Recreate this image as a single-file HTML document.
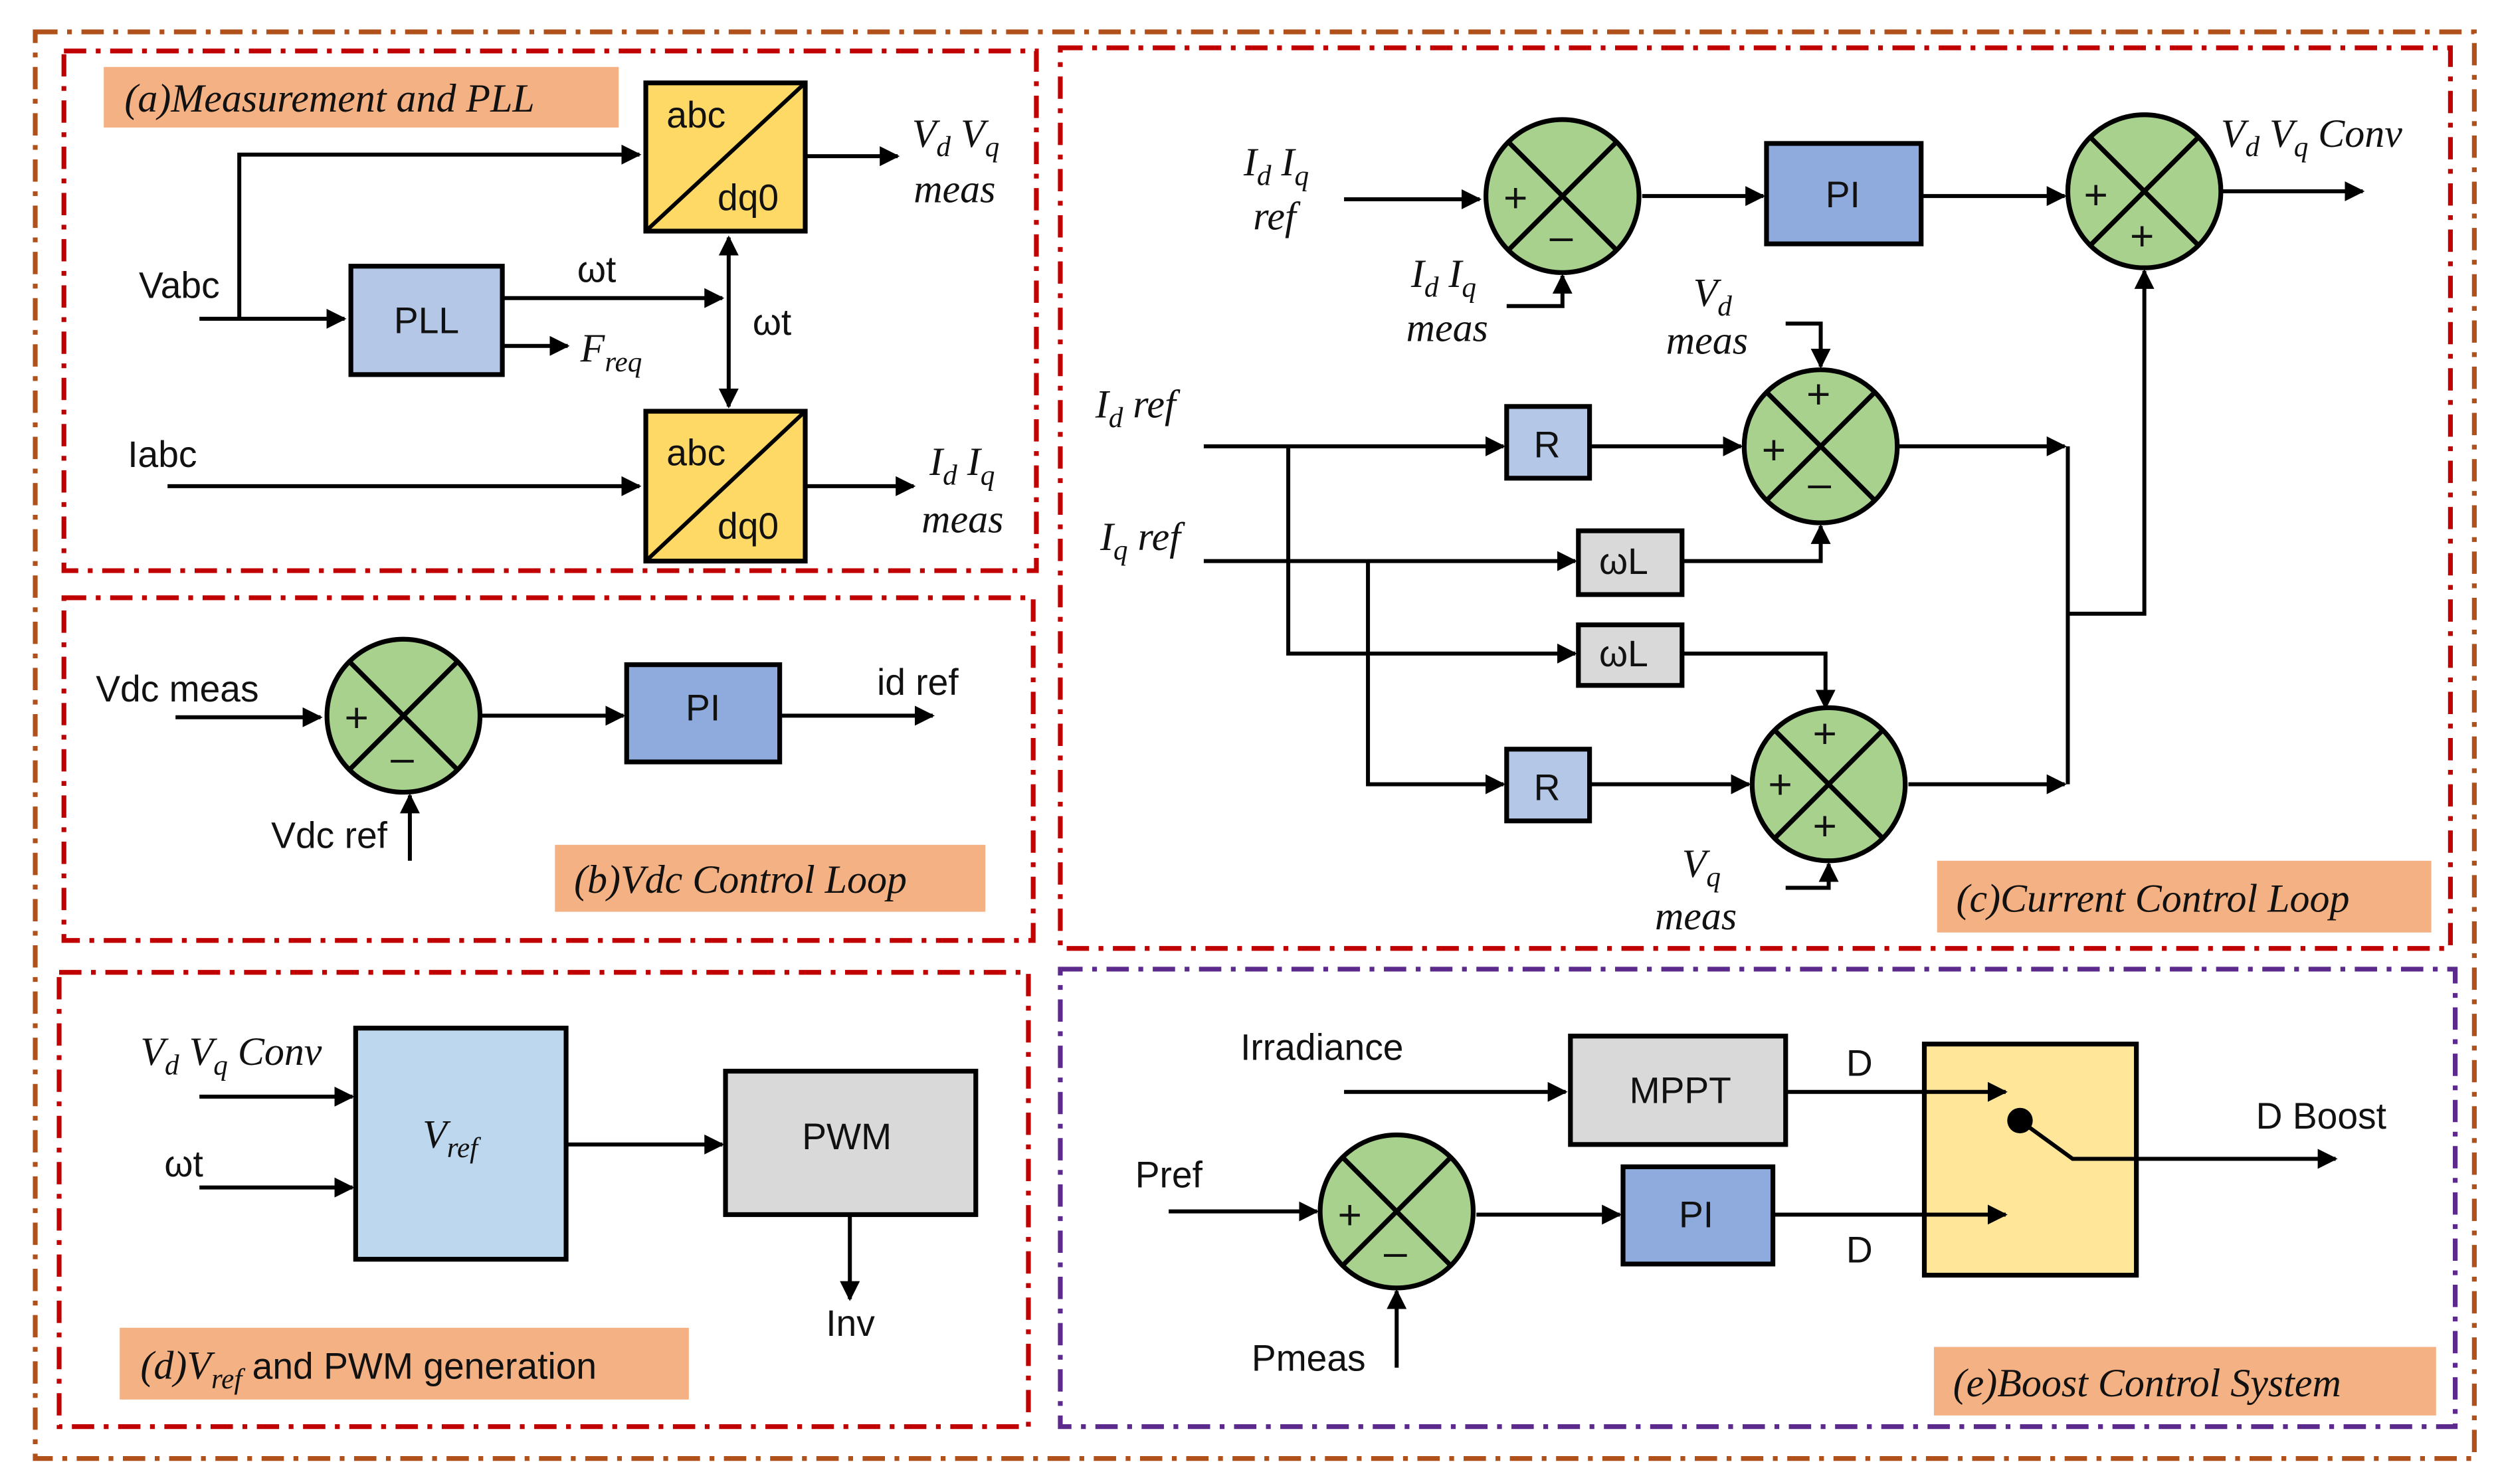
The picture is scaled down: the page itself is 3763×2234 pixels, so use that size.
<!DOCTYPE html>
<html><head><meta charset="utf-8"><style>
html,body{margin:0;padding:0;background:#fff}
svg{display:block}
text{font-family:"Liberation Sans",sans-serif;font-size:23px;fill:#111}
.s{font-size:26px}
.m{font-family:"Liberation Serif",serif;font-style:italic;font-size:25px}
.lab{font-family:"Liberation Serif",serif;font-style:italic;font-size:25px}
.ln{stroke:#000;stroke-width:2.5;fill:none}
.bx{stroke:#000;stroke-width:3}
.frame{fill:none;stroke-width:3;stroke-dasharray:14 6 3 6}
</style></head><body>
<svg width="3763" height="2234" viewBox="0 0 1568 931" xmlns="http://www.w3.org/2000/svg">
<defs>
<marker id="a" viewBox="0 0 10 10" refX="9" refY="5" markerWidth="5" markerHeight="5" orient="auto-start-reverse"><path d="M0,0L10,5L0,10z" fill="#000"/></marker>
<g id="sum"><circle r="48" fill="#a9d18e" stroke="#000" stroke-width="3"/><path d="M-34,-34L34,34M34,-34L-34,34" stroke="#000" stroke-width="3"/></g>
</defs>
<rect x="22" y="20" width="1530" height="895" class="frame" stroke="#b0501a"/>
<rect x="40" y="32" width="610" height="326" class="frame" stroke="#c00000"/>
<rect x="40" y="375" width="608" height="215" class="frame" stroke="#c00000"/>
<rect x="665" y="30" width="872" height="565" class="frame" stroke="#c00000"/>
<rect x="37" y="610" width="608" height="285" class="frame" stroke="#c00000"/>
<rect x="665" y="608" width="875" height="287" class="frame" stroke="#5b2a8c"/>
<rect x="65" y="42" width="323" height="38" fill="#f4b183"/><text x="78" y="70" class="lab">(a)Measurement and PLL</text>
<rect x="348" y="530" width="270" height="42" fill="#f4b183"/><text x="360" y="560" class="lab">(b)Vdc Control Loop</text>
<rect x="1215" y="540" width="310" height="45" fill="#f4b183"/><text x="1227" y="572" class="lab">(c)Current Control Loop</text>
<rect x="75" y="833" width="357" height="45" fill="#f4b183"/><text x="88" y="865" class="lab">(d)V<tspan font-size="18" dy="6">ref</tspan><tspan dy="-6" font-family="Liberation Sans" font-style="normal" font-size="23"> and PWM generation</tspan></text>
<rect x="1213" y="845" width="315" height="43" fill="#f4b183"/><text x="1225" y="876" class="lab">(e)Boost Control System</text>

<rect x="405" y="52" width="100" height="93" fill="#ffd966" class="bx"/><path d="M405,145L505,52" class="ln" stroke-width="3"/>
<text x="418" y="80">abc</text><text x="450" y="132">dq0</text>
<rect x="405" y="258" width="100" height="94" fill="#ffd966" class="bx"/><path d="M405,352L505,258" class="ln" stroke-width="3"/>
<text x="418" y="292">abc</text><text x="450" y="338">dq0</text>
<rect x="220" y="167" width="95" height="68" fill="#b4c7e7" class="bx"/><text x="247" y="209">PLL</text>
<text x="87" y="187">Vabc</text>
<path d="M125,200H216" class="ln" marker-end="url(#a)"/>
<path d="M150,200V97H401" class="ln" marker-end="url(#a)"/>
<path d="M315,187H453" class="ln" marker-end="url(#a)"/><text x="362" y="177">ωt</text>
<path d="M315,217H356" class="ln" marker-end="url(#a)"/><text x="364" y="227" class="m">F<tspan font-size="18" dy="6">req</tspan></text>
<path d="M457,149V255" class="ln" marker-start="url(#a)" marker-end="url(#a)"/><text x="472" y="210">ωt</text>
<text x="80" y="293">Iabc</text>
<path d="M105,305H401" class="ln" marker-end="url(#a)"/>
<path d="M505,98H563" class="ln" marker-end="url(#a)"/>
<text x="572" y="92" class="m">V<tspan font-size="18" dy="6">d</tspan><tspan dy="-6"> V</tspan><tspan font-size="18" dy="6">q</tspan></text><text x="573" y="127" class="m">meas</text>
<path d="M505,305H573" class="ln" marker-end="url(#a)"/>
<text x="583" y="298" class="m">I<tspan font-size="18" dy="6">d</tspan><tspan dy="-6"> I</tspan><tspan font-size="18" dy="6">q</tspan></text><text x="578" y="334" class="m">meas</text>

<use href="#sum" x="253" y="449"/><text class="s" x="216" y="459">+</text><text class="s" x="245" y="484">–</text>
<text x="60" y="440">Vdc meas</text>
<path d="M110,450H201" class="ln" marker-end="url(#a)"/>
<path d="M257,540V499" class="ln" marker-end="url(#a)"/><text x="170" y="532">Vdc ref</text>
<rect x="393" y="417" width="96" height="61" fill="#8faadc" class="bx"/><text x="430" y="452">PI</text>
<path d="M301,449H391" class="ln" marker-end="url(#a)"/>
<path d="M489,449H585" class="ln" marker-end="url(#a)"/><text x="550" y="436">id ref</text>

<use href="#sum" x="980" y="123"/><text class="s" x="943" y="133">+</text><text class="s" x="972" y="157">–</text>
<text x="780" y="110" class="m">I<tspan font-size="18" dy="6">d</tspan><tspan dy="-6"> I</tspan><tspan font-size="18" dy="6">q</tspan></text><text x="786" y="144" class="m">ref</text>
<path d="M843,125H928" class="ln" marker-end="url(#a)"/>
<text x="885" y="180" class="m">I<tspan font-size="18" dy="6">d</tspan><tspan dy="-6"> I</tspan><tspan font-size="18" dy="6">q</tspan></text><text x="882" y="214" class="m">meas</text>
<path d="M945,192H980V173" class="ln" marker-end="url(#a)"/>
<rect x="1108" y="90" width="97" height="63" fill="#8faadc" class="bx"/><text x="1145" y="130">PI</text>
<path d="M1030,123H1106" class="ln" marker-end="url(#a)"/>
<path d="M1205,123H1295" class="ln" marker-end="url(#a)"/>
<use href="#sum" x="1345" y="120"/><text class="s" x="1307" y="131">+</text><text class="s" x="1336" y="157">+</text>
<path d="M1393,120H1482" class="ln" marker-end="url(#a)"/>
<text x="1393" y="92" class="m">V<tspan font-size="18" dy="6">d</tspan><tspan dy="-6"> V</tspan><tspan font-size="18" dy="6">q</tspan><tspan dy="-6"> Conv</tspan></text>
<path d="M1297,385H1345V170" class="ln" marker-end="url(#a)"/>
<path d="M1297,280V492" class="ln"/>
<use href="#sum" x="1142" y="280"/><text class="s" x="1133" y="256">+</text><text class="s" x="1105" y="291">+</text><text class="s" x="1134" y="312">–</text>
<text x="1062" y="192" class="m">V<tspan font-size="18" dy="6">d</tspan></text><text x="1045" y="222" class="m">meas</text>
<path d="M1120,203H1142V230" class="ln" marker-end="url(#a)"/>
<text x="687" y="262" class="m">I<tspan font-size="18" dy="6">d</tspan><tspan dy="-6"> ref</tspan></text>
<path d="M755,280H943" class="ln" marker-end="url(#a)"/>
<rect x="945" y="255" width="52" height="45" fill="#b4c7e7" class="bx"/><text x="962" y="287">R</text>
<path d="M997,280H1092" class="ln" marker-end="url(#a)"/>
<path d="M1190,280H1295" class="ln" marker-end="url(#a)"/>
<text x="690" y="345" class="m">I<tspan font-size="18" dy="6">q</tspan><tspan dy="-6"> ref</tspan></text>
<path d="M755,352H988" class="ln" marker-end="url(#a)"/>
<rect x="990" y="333" width="65" height="40" fill="#d9d9d9" class="bx"/><text x="1003" y="360">ωL</text>
<path d="M1055,352H1142V330" class="ln" marker-end="url(#a)"/>
<path d="M808,280V410H988" class="ln" marker-end="url(#a)"/>
<rect x="990" y="392" width="65" height="38" fill="#d9d9d9" class="bx"/><text x="1003" y="418">ωL</text>
<path d="M1055,410H1145V444" class="ln" marker-end="url(#a)"/>
<path d="M858,352V492H943" class="ln" marker-end="url(#a)"/>
<rect x="945" y="470" width="52" height="45" fill="#b4c7e7" class="bx"/><text x="962" y="502">R</text>
<path d="M997,492H1097" class="ln" marker-end="url(#a)"/>
<use href="#sum" x="1147" y="492"/><text class="s" x="1137" y="469">+</text><text class="s" x="1109" y="501">+</text><text class="s" x="1137" y="527">+</text>
<path d="M1197,492H1295" class="ln" marker-end="url(#a)"/>
<text x="1055" y="550" class="m">V<tspan font-size="18" dy="6">q</tspan></text><text x="1038" y="583" class="m">meas</text>
<path d="M1120,557H1147V542" class="ln" marker-end="url(#a)"/>

<rect x="223" y="645" width="132" height="145" fill="#bdd7ee" class="bx"/>
<text x="265" y="720" class="m">V<tspan font-size="18" dy="6">ref</tspan></text>
<text x="88" y="668" class="m">V<tspan font-size="18" dy="6">d</tspan><tspan dy="-6"> V</tspan><tspan font-size="18" dy="6">q</tspan><tspan dy="-6"> Conv</tspan></text>
<path d="M125,688H221" class="ln" marker-end="url(#a)"/>
<text x="103" y="738">ωt</text>
<path d="M125,745H221" class="ln" marker-end="url(#a)"/>
<path d="M355,718H453" class="ln" marker-end="url(#a)"/>
<rect x="455" y="672" width="157" height="90" fill="#d9d9d9" class="bx"/><text x="503" y="721">PWM</text>
<path d="M533,762V815" class="ln" marker-end="url(#a)"/><text x="518" y="838">Inv</text>

<text x="778" y="665">Irradiance</text>
<path d="M843,685H982" class="ln" marker-end="url(#a)"/>
<rect x="985" y="650" width="135" height="68" fill="#d9d9d9" class="bx"/><text x="1022" y="692">MPPT</text>
<rect x="1207" y="655" width="133" height="145" fill="#ffe699" class="bx"/>
<path d="M1120,685H1258" class="ln" marker-end="url(#a)"/><text x="1158" y="675">D</text>
<circle cx="1267" cy="703" r="8" fill="#000"/>
<path d="M1267,703L1300,727H1465" class="ln" marker-end="url(#a)"/>
<text x="1415" y="708">D Boost</text>
<text x="712" y="745">Pref</text>
<path d="M733,760H826" class="ln" marker-end="url(#a)"/>
<use href="#sum" x="876" y="760"/><text class="s" x="839" y="771">+</text><text class="s" x="868" y="794">–</text>
<path d="M926,762H1016" class="ln" marker-end="url(#a)"/>
<rect x="1018" y="732" width="94" height="61" fill="#8faadc" class="bx"/><text x="1053" y="770">PI</text>
<path d="M1112,762H1258" class="ln" marker-end="url(#a)"/><text x="1158" y="792">D</text>
<text x="785" y="860">Pmeas</text>
<path d="M876,858V810" class="ln" marker-end="url(#a)"/>
</svg>
</body></html>
